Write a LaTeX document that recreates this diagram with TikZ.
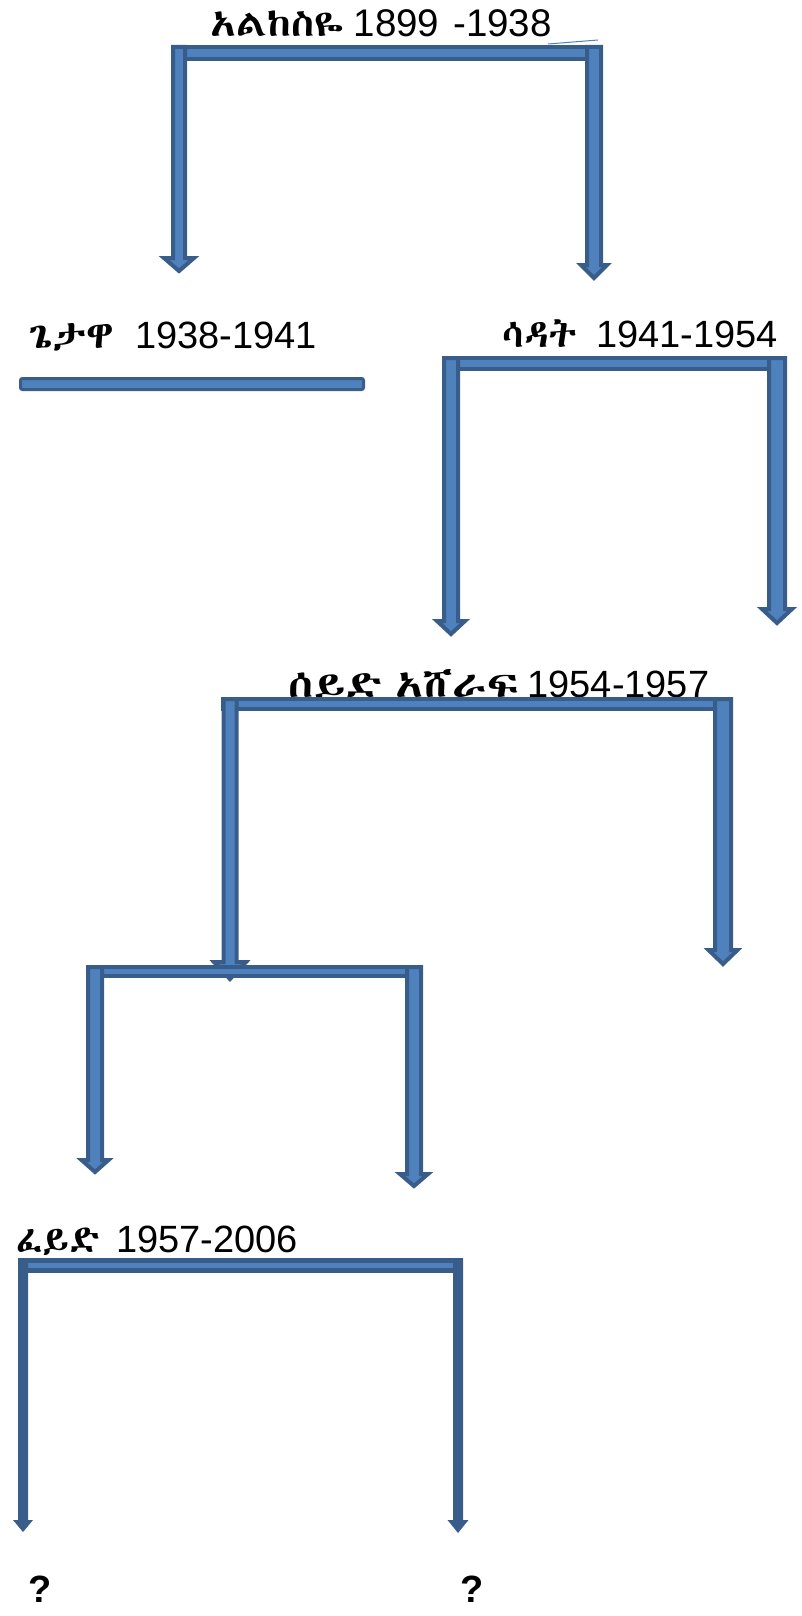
\documentclass[tikz,border=0pt]{standalone}
\usepackage{fontspec}
\usepackage{graphicx}
\setmainfont{Liberation Sans}
\IfFontExistsTF{Abyssinica SIL}{\newfontfamily\eth{Abyssinica SIL}}{%
 \IfFontExistsTF{FreeSerif}{\newfontfamily\eth{FreeSerif}}{%
  \IfFontExistsTF{Ethiopia Jiret}{\newfontfamily\eth{Ethiopia Jiret}}{%
   \IfFontExistsTF{GF Zemen Unicode}{\newfontfamily\eth{GF Zemen Unicode}}{%
    \newfontfamily\eth{Liberation Sans}}}}}
\definecolor{arrfill}{HTML}{4F81BD}
\definecolor{arrline}{HTML}{385D8A}
\tikzset{
  blk/.style={fill=arrfill, draw=arrline, line width=4pt, line join=miter},
  thinleg/.style={fill=arrline, draw=none},
  lbl/.style={anchor=base west, inner sep=0pt},
}
% Ethiopic word: #1 horizontal scale, #2 size, #3 text
\newcommand{\ethw}[3]{\scalebox{#1}[1]{\eth\fontsize{#2}{#2}\selectfont #3}}
\newcommand{\numw}[2]{{\fontsize{#1}{#1}\selectfont #2}}
% #1 centre x, #2 top y, #3 tip y, #4 shaft half width, #5 head half width, #6 head top y (outer sizes)
\newcommand{\dnarrow}[6]{%
  \draw[blk] (#1-#4+2,#2+2) -- (#1+#4-2,#2+2) -- (#1+#4-2,#6+2) -- (#1+#5-4,#6+2)
    -- (#1,#3-3) -- (#1-#5+4,#6+2) -- (#1-#4+2,#6+2) -- cycle;}
\newcommand{\blkbar}[4]{\draw[blk] (#1+2,#2+2) rectangle (#3-2,#4-2);}
\begin{document}
\begin{tikzpicture}[x=1pt,y=-1pt]
\useasboundingbox (0,0) rectangle (801,1616);

% level 1
\node[lbl] (l1) at (210,37) {\ethw{1.14}{37}{አልከስዬ}\hspace{10pt}\numw{38.5}{1899\hspace{14pt}-1938}};
\draw[arrfill, line width=1pt] (548,44) -- (598,40);
\blkbar{171}{45}{603}{61}
\dnarrow{179}{45}{274}{8}{19}{256}
\dnarrow{594}{45}{281}{9}{17}{263}

% level 2
\node[lbl] (l2) at (28,348) {\ethw{1.09}{38}{ጌታዋ}\hspace{21pt}\numw{38}{1938-1941}};
\draw[blk, line width=3pt, rounded corners=2pt] (20.5,378.5) rectangle (363.5,389.5);

\node[lbl] (l3) at (502,347) {\ethw{1.04}{38}{ሳዳት}\hspace{19pt}\numw{38}{1941-1954}};
\blkbar{443}{356}{787}{371}
\dnarrow{451}{356}{637}{9}{18}{619}
\dnarrow{777}{356}{626}{10}{19}{607}

% level 3
\node[lbl] (l4) at (288,697) {\ethw{1.24}{37}{ሰይድ\hspace{10pt}አሸራፍ}\hspace{8pt}\numw{38}{1954-1957}};
\blkbar{221}{697}{733}{711}
\dnarrow{230}{697}{982}{8.5}{20}{960}
\dnarrow{723}{697}{967}{10}{18.5}{948}

% level 4
\blkbar{87}{965}{422}{978}
\dnarrow{95}{965}{1175}{9}{17.5}{1158}
\dnarrow{414}{965}{1189}{9}{18}{1172}

% level 5
\node[lbl] (l5) at (16,1252) {\ethw{1.0}{38}{ፈይድ}\hspace{16pt}\numw{38}{1957-2006}};
\draw[blk, line width=5pt] (20.5,1260.5) rectangle (460.5,1270.5);
\fill[thinleg] (18,1258) -- (28,1258) -- (28,1520) -- (33,1520) -- (23,1532) -- (13,1520) -- (18,1520) -- cycle;
\fill[thinleg] (453,1258) -- (463,1258) -- (463,1520) -- (468.5,1520) -- (458,1533) -- (447.5,1520) -- (453,1520) -- cycle;

\node[lbl, font=\fontsize{38}{38}\selectfont\bfseries] (q1) at (28,1602) {?};
\node[lbl, font=\fontsize{38}{38}\selectfont\bfseries] (q2) at (460,1602) {?};
\end{tikzpicture}
\end{document}
